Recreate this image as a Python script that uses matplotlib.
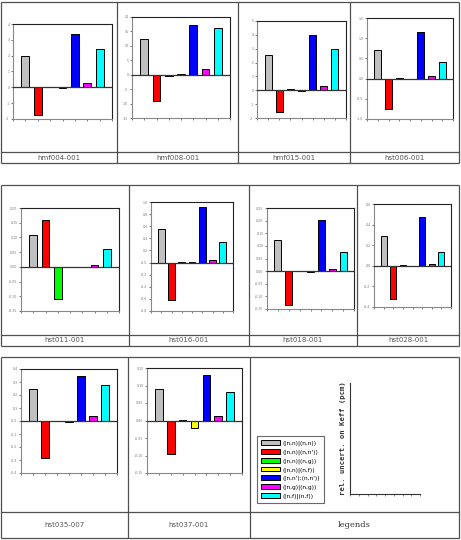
import matplotlib
matplotlib.use("Agg")
import matplotlib.pyplot as plt
from matplotlib.patches import Patch
import numpy as np

W, H = 461, 540

categories = ["((n,n)|(n,n))", "((n,n)|(n,n'))", "((n,n)|(n,g))", "((n,n)|(n,f))",
              "((n,n');(n,n'))", "((n,g)|(n,g))", "((n,f)|(n,f))"]
colors = ["#c0c0c0", "#ff0000", "#00ff00", "#ffff00", "#0000ff", "#ff00ff", "#00ffff"]

cases = ["hmf004-001", "hmf008-001", "hmf015-001", "hst006-001", "hst011-001",
         "hst016-001", "hst018-001", "hst028-001", "hst035-007", "hst037-001"]

hmf004 = [2.0, -1.73, 0.03, -0.05, 3.35, 0.25, 2.4]
hmf008 = [12.35, -9.2, -0.5, 0.3, 17.3, 2.1, 16.2]
hmf015 = [2.54, -1.57, 0.1, -0.07, 3.97, 0.34, 2.95]
hst006 = [0.71, -0.76, 0.01, -0.02, 1.15, 0.07, 0.40]
hst011 = [0.107, 0.160, -0.109, 0.001, -0.001, 0.008, 0.059]
hst016 = [0.56, -0.62, 0.01, 0.004, 0.91, 0.034, 0.34]
hst018 = [0.125, -0.133, 0.0015, -0.0015, 0.2035, 0.0095, 0.0745]
hst028 = [0.286, -0.32, 0.01, -0.006, 0.474, 0.022, 0.13]
hst035 = [0.247, -0.283, 0.003, -0.008, 0.347, 0.041, 0.275]
hst037 = [0.089, -0.096, 0.002, -0.022, 0.129, 0.012, 0.082]
values = [hmf004, hmf008, hmf015, hst006, hst011, hst016, hst018, hst028, hst035, hst037]

# y-axis (min, max, step) per chart
yaxes = [(-2, 4, 1), (-15, 20, 5), (-2, 5, 1), (-1.0, 1.5, 0.5), (-0.15, 0.20, 0.05),
         (-0.8, 1.0, 0.2), (-0.15, 0.25, 0.05), (-0.4, 0.6, 0.2), (-0.4, 0.4, 0.1),
         (-0.15, 0.15, 0.05)]
ydec = [0, 0, 0, 1, 2, 1, 2, 1, 1, 2]

# plot-area boxes in pixels (left, top, right, bottom)
boxes = [(13, 24, 112, 119), (132, 17, 230, 118), (257, 21, 346, 118), (367, 18, 453, 119),
         (21, 208, 119, 311), (151, 202, 233, 311), (267, 208, 354, 309), (374, 204, 451, 307),
         (21, 369, 117, 473), (147, 368, 242, 473)]

fig = plt.figure(figsize=(W / 100, H / 100), dpi=100)
fig.patch.set_facecolor("white")


def px_axes(l, t, r, b, **kw):
    return fig.add_axes([l / W, 1 - b / H, (r - l) / W, (b - t) / H], **kw)


# background table grid
bg = fig.add_axes([0, 0, 1, 1], zorder=-10)
bg.set_xlim(0, W)
bg.set_ylim(H, 0)
bg.axis("off")
lc, lw = "#505050", 0.9
rows = [
    (2, 152, 163, [1, 117, 238, 350, 459]),
    (185, 335, 346, [1, 129, 249, 357, 459]),
    (357, 512, 538, [1, 128, 250, 459]),
]
for top, sep, bot, xs in rows:
    bg.hlines([top, sep, bot], xs[0], xs[-1], color=lc, lw=lw)
    bg.vlines(xs, top, bot, color=lc, lw=lw)

label_pos = [(59, 157.5), (177.5, 157.5), (294, 157.5), (404.5, 157.5),
             (65, 340.5), (189, 340.5), (303, 340.5), (408, 340.5),
             (64.5, 525), (189, 525)]
for name, (x, y) in zip(cases, label_pos):
    bg.text(x, y, name, ha="center", va="center", fontsize=5.0, color="#555555")
bg.text(354.5, 525, "legends", ha="center", va="center", fontsize=6,
        family="DejaVu Serif", color="#333333")

xpos = np.arange(1, 8)
for vals, (ymin, ymax, step), dec, box in zip(values, yaxes, ydec, boxes):
    ax = px_axes(*box)
    ax.bar(xpos, vals, width=0.64, color=colors, edgecolor="black", linewidth=0.7, zorder=3)
    ax.axhline(0, color="#333333", lw=0.9, zorder=4)
    ax.set_xlim(0, 8)
    ax.set_ylim(ymin, ymax)
    ax.set_xticks(np.arange(0, 9))
    ax.set_xticklabels([])
    ticks = np.arange(ymin, ymax + step / 2, step)
    ax.set_yticks(ticks)
    ax.set_yticklabels([f"{t:.{dec}f}" for t in ticks], fontsize=2.3, color="#666666")
    ax.tick_params(axis="both", length=1.5, width=0.5, pad=1, colors="#444444")
    ax.tick_params(axis="y", labelcolor="#777777")
    for s in ["top", "right"]:
        ax.spines[s].set_color("#222222")
        ax.spines[s].set_linewidth(0.8)
    for s in ["left", "bottom"]:
        ax.spines[s].set_color("#888888")
        ax.spines[s].set_linewidth(0.8)

# empty axis in the legend cell
lax = px_axes(350, 383, 420, 494)
lax.set_xlim(0, 8)
lax.set_ylim(0, 1)
lax.set_xticks(np.arange(0, 9))
lax.set_xticklabels([])
lax.set_yticks([])
lax.spines["top"].set_visible(False)
lax.spines["right"].set_visible(False)
lax.spines["left"].set_color("#333333")
lax.spines["bottom"].set_color("#333333")
lax.tick_params(axis="x", length=1.2, width=0.5, colors="#555555")
lax.set_ylabel("rel. uncert. on Keff (pcm)", family="DejaVu Sans Mono",
               fontweight="bold", fontsize=5.2, color="#333333", labelpad=3)

handles = [Patch(facecolor=c, edgecolor="black", linewidth=0.7) for c in colors]
leg = fig.legend(handles, categories, loc="upper left",
                 bbox_to_anchor=(257 / W, 1 - 436 / H), fontsize=4.2,
                 frameon=True, fancybox=False, edgecolor="#444444",
                 handlelength=3.2, handleheight=0.9, handletextpad=0.5,
                 labelspacing=0.5, borderpad=0.7, borderaxespad=0)
leg.get_frame().set_linewidth(0.8)

fig.savefig("out.png", dpi=100, facecolor="white")
